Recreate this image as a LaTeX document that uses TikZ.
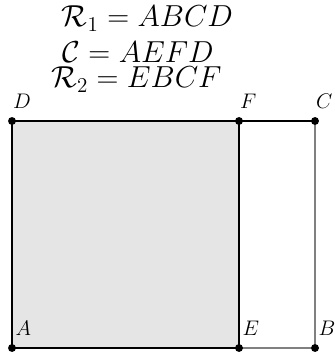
\documentclass[tikz,border=0pt]{standalone}
\usepackage{amsmath}
\begin{document}
\begin{tikzpicture}[x=0.02cm,y=-0.02cm,
  edge/.style={line width=0.8pt,black},
  grayedge/.style={line width=0.8pt,gray},
  pt/.style={circle,fill=black,inner sep=0pt,minimum size=4.5pt},
  lbl/.style={anchor=south west,inner sep=1pt,font=\large},
  title/.style={font=\LARGE,inner sep=0pt,anchor=base}]
\useasboundingbox (0,0) rectangle (334,354);
\coordinate (A) at (12,348);
\coordinate (E) at (239,348);
\coordinate (B) at (315,348);
\coordinate (D) at (12,121);
\coordinate (F) at (239,121);
\coordinate (C) at (315,121);
\fill[black!10] (A) rectangle (F);
\draw[grayedge] (E) -- (B) -- (C);
\draw[edge] (F) -- (C);
\draw[edge] (A) -- (E) -- (F) -- (D) -- cycle;
\foreach \p in {A,B,C,D,E,F} \node[pt] (p\p) at (\p) {};
\node[lbl] (lA) at ([xshift=0.8pt,yshift=6pt]A) {$A$};
\node[lbl] (lE) at ([xshift=0.8pt,yshift=6pt]E) {$E$};
\node[lbl] (lB) at ([xshift=0.8pt,yshift=6pt]B) {$B$};
\node[lbl] (lD) at ([xshift=-0.5pt,yshift=6pt]D) {$D$};
\node[lbl] (lF) at ([xshift=-0.5pt,yshift=6pt]F) {$F$};
\node[lbl] (lC) at ([xshift=-0.5pt,yshift=6pt]C) {$C$};
\node[title] (t1) at (147.5,27) {$\mathcal{R}_1=ABCD$};
\node[title] (t2) at (138,63) {$\mathcal{C}=AEFD$};
\node[title] (t3) at (136.5,88) {$\mathcal{R}_2=EBCF$};
\end{tikzpicture}
\end{document}
